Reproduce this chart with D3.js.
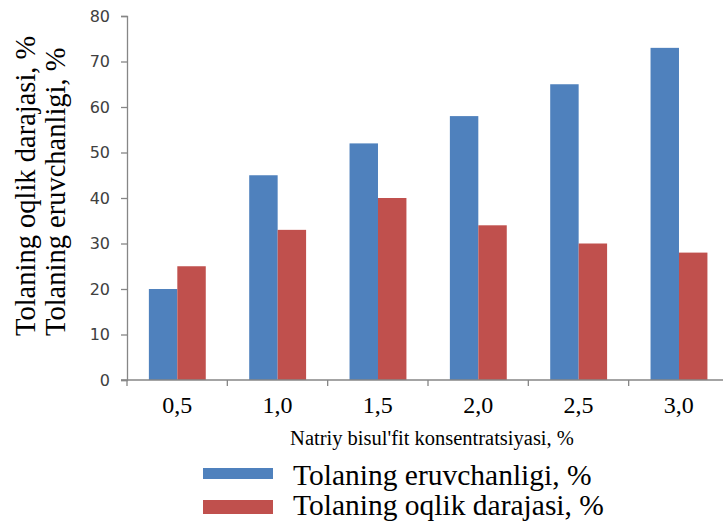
<!DOCTYPE html>
<html>
<head>
<meta charset="utf-8">
<script src="https://cdn.jsdelivr.net/npm/d3@7"></script>
<style>
  html, body { margin: 0; padding: 0; background: #fff; }
  svg { display: block; }
</style>
</head>
<body>
<svg id="chart" width="723" height="521"></svg>
<script>
const categories = ["0,5", "1,0", "1,5", "2,0", "2,5", "3,0"];
const seriesNames = ["Tolaning eruvchanligi, %", "Tolaning oqlik darajasi, %"];
const eruvchanlik = [20, 45, 52, 58, 65, 73];
const oqlik = [25, 33, 40, 34, 30, 28];
const yTicks = [0, 10, 20, 30, 40, 50, 60, 70, 80];
const colors = ["#4f81bd", "#c0504d"];

(function () {
const SERIF = "Liberation Serif";
const SANS = "DejaVu Sans";
const svg = d3.select("#chart");
const pLeft = 127, pRight = 729, pTop = 16, pBottom = 380;

const x = d3.scaleBand().domain(categories).range([pLeft, pRight]).padding(0);
const bw = x.bandwidth();
const xInner = d3.scaleBand().domain([0, 1]).range([bw * 0.218, bw * 0.785]).padding(0);
const y = d3.scaleLinear().domain([0, 80]).range([pBottom, pTop]);

const data = categories.map((c, i) => ({ c, vals: [eruvchanlik[i], oqlik[i]] }));

// bars
const g = svg.append("g");
data.forEach(d => {
  d.vals.forEach((v, s) => {
    g.append("rect")
      .attr("x", x(d.c) + xInner(s))
      .attr("y", y(v))
      .attr("width", xInner.bandwidth())
      .attr("height", y(0) - y(v))
      .attr("fill", colors[s]);
  });
});

// y axis
const yAxis = d3.axisLeft(y).tickValues(yTicks).tickSize(6).tickPadding(11).tickFormat(d3.format("d"));
const ya = svg.append("g").attr("transform", `translate(${pLeft},0)`).call(yAxis);
ya.select(".domain").attr("stroke", "#868686").attr("stroke-width", 1.3);
ya.selectAll(".tick line").attr("stroke", "#868686").attr("stroke-width", 1.3);
ya.selectAll(".tick text").style("font-family", SANS)
  .style("font-size", "16px").attr("fill", "#404040");

// x axis
const xTickPos = categories.map(c => x(c)).concat([pRight]);
const xa = svg.append("g").attr("transform", `translate(0,${pBottom})`);
xa.append("line").attr("x1", pLeft - 6).attr("x2", pRight).attr("y1", 0).attr("y2", 0)
  .attr("stroke", "#868686").attr("stroke-width", 1.3);
xa.selectAll("line.tk").data(xTickPos).enter().append("line").attr("class", "tk")
  .attr("x1", d => d).attr("x2", d => d).attr("y1", 0).attr("y2", 6)
  .attr("stroke", "#868686").attr("stroke-width", 1.3);
xa.selectAll("text").data(categories).enter().append("text")
  .attr("x", d => x(d) + bw / 2).attr("y", 33)
  .attr("text-anchor", "middle")
  .style("font-family", SERIF)
  .style("font-size", "24px").attr("fill", "#000")
  .text(d => d);

// x title
svg.append("text").attr("x", 432).attr("y", 445).attr("text-anchor", "middle")
  .style("font-family", SERIF)
  .style("font-size", "20.5px").attr("fill", "#000")
  .text("Natriy bisul'fit konsentratsiyasi, %");

// y titles
const yTitles = [seriesNames[1], seriesNames[0]];
yTitles.forEach((t, i) => {
  svg.append("text")
    .attr("transform", `translate(${35 + i * 30},336) rotate(-90)`)
    .attr("text-anchor", "start")
    .style("font-family", SERIF)
    .style("font-size", "28.5px").attr("fill", "#000")
    .text(t);
});

// legend
const legend = svg.append("g");
const legRectY = [468, 500], legRectH = [11, 14];
seriesNames.forEach((n, i) => {
  legend.append("rect").attr("x", 203).attr("y", legRectY[i]).attr("width", 70).attr("height", legRectH[i])
    .attr("fill", colors[i]);
  legend.append("text").attr("x", 293).attr("y", 485 + i * 30)
    .style("font-family", SERIF)
    .style("font-size", "29.5px").attr("fill", "#000")
    .text(n);
});
})();
</script>
</body>
</html>
